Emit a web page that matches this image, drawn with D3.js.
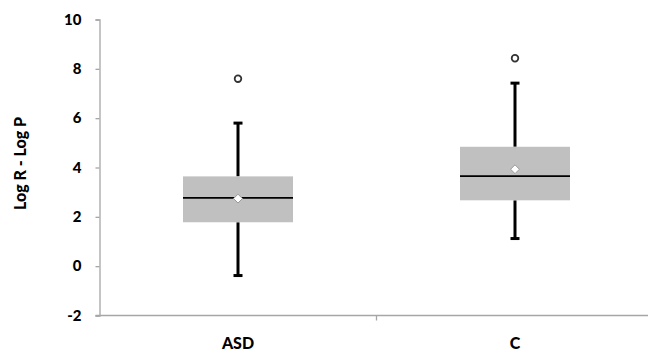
<!DOCTYPE html>
<html>
<head>
<meta charset="utf-8">
<script src="https://cdn.jsdelivr.net/npm/d3@7"></script>
<style>
    body { margin: 0; background: #fff; }
    text { font-family: Lato, "Liberation Sans", sans-serif; font-weight: 900; fill: #000; }
</style>
</head>
<body>
<svg id="chart"></svg>
<script>
// data

let groups = ['ASD', 'C'];
let whiskerLow = [-0.38, 1.12];
let q1 = [1.78, 2.67];
let median = [2.77, 3.65];
let q3 = [3.64, 4.84];
let whiskerHigh = [5.8, 7.42];
let means = [2.74, 3.93];
let outliers = [7.6, 8.43];
let yTicks = [-2, 0, 2, 4, 6, 8, 10];

// sizes

let width = 648;
let height = 356;
let axisX = 99.5;
let yTop = 19.5;
let yBottom = 315.5;

let svg = d3.select('#chart')
    .attr('width', width)
    .attr('height', height);

// scales

let yScale = d3.scaleLinear()
    .domain([-2, 10])
    .range([yBottom, yTop]);

let xScale = d3.scaleBand()
    .domain(groups)
    .range([axisX, axisX + 2 * 277]);

let boxWidth = 110;
let capWidth = 9;

// y axis
svg.append('g')
    .attr('transform', `translate(${axisX}, 0)`)
    .call(d3.axisLeft(yScale)
        .tickValues(yTicks)
        .tickSize(4)
        .tickPadding(14)
        .tickFormat(d => String(d))) // plain hyphen for -2
    .call(g => g.select('.domain').attr('stroke', '#a6a6a6').attr('stroke-width', 1.3))
    .call(g => g.selectAll('.tick line').attr('stroke', '#a6a6a6').attr('stroke-width', 1.3))
    .call(g => g.selectAll('.tick text')
        .style('font-size', '15px')
        .attr('fill', '#000'));

// x axis
svg.append('line')
    .attr('x1', axisX - 4)
    .attr('x2', width)
    .attr('y1', yScale(-2))
    .attr('y2', yScale(-2))
    .attr('stroke', '#a6a6a6')
    .attr('stroke-width', 1.3);

// tick between the two groups
svg.append('line')
    .attr('x1', xScale('C'))
    .attr('x2', xScale('C'))
    .attr('y1', yScale(-2))
    .attr('y2', yScale(-2) + 5)
    .attr('stroke', '#a6a6a6')
    .attr('stroke-width', 1.3);

svg.selectAll('.x-label')
    .data(groups)
    .enter()
    .append('text')
    .attr('class', 'x-label')
    .attr('x', d => xScale(d) + xScale.bandwidth() / 2)
    .attr('y', 349)
    .attr('text-anchor', 'middle')
    .style('font-size', '16px')
    .text(d => d);

svg.append('text')
    .attr('transform', `translate(26, ${(yTop + yBottom) / 2 - 4}) rotate(-90)`)
    .attr('text-anchor', 'middle')
    .style('font-size', '16px')
    .text('Log R - Log P');

// boxes

let boxes = svg.selectAll('.box')
    .data(groups)
    .enter()
    .append('g')
    .attr('class', 'box')
    .attr('transform', d => `translate(${xScale(d) + xScale.bandwidth() / 2}, 0)`);

// whiskers
boxes.append('line')
    .attr('x1', 0).attr('x2', 0)
    .attr('y1', (d, i) => yScale(whiskerLow[i]))
    .attr('y2', (d, i) => yScale(q1[i]))
    .attr('stroke', '#000').attr('stroke-width', 3);

boxes.append('line')
    .attr('x1', 0).attr('x2', 0)
    .attr('y1', (d, i) => yScale(q3[i]))
    .attr('y2', (d, i) => yScale(whiskerHigh[i]))
    .attr('stroke', '#000').attr('stroke-width', 3);

boxes.append('line')
    .attr('x1', -capWidth / 2).attr('x2', capWidth / 2)
    .attr('y1', (d, i) => yScale(whiskerLow[i]))
    .attr('y2', (d, i) => yScale(whiskerLow[i]))
    .attr('stroke', '#000').attr('stroke-width', 3);

boxes.append('line')
    .attr('x1', -capWidth / 2).attr('x2', capWidth / 2)
    .attr('y1', (d, i) => yScale(whiskerHigh[i]))
    .attr('y2', (d, i) => yScale(whiskerHigh[i]))
    .attr('stroke', '#000').attr('stroke-width', 3);

boxes.append('rect')
    .attr('x', -boxWidth / 2)
    .attr('width', boxWidth)
    .attr('y', (d, i) => yScale(q3[i]))
    .attr('height', (d, i) => yScale(q1[i]) - yScale(q3[i]))
    .style('fill', '#c0c0c0');

boxes.append('line')
    .attr('x1', -boxWidth / 2).attr('x2', boxWidth / 2)
    .attr('y1', (d, i) => yScale(median[i]))
    .attr('y2', (d, i) => yScale(median[i]))
    .attr('stroke', '#000').attr('stroke-width', 1.8);

// mean marker
boxes.append('path')
    .attr('d', d3.symbol(d3.symbolDiamond2, 50))
    .attr('transform', (d, i) => `translate(0, ${yScale(means[i])})`)
    .style('fill', '#fff')
    .attr('stroke', '#999')
    .attr('stroke-width', 1);

// outliers
boxes.append('circle')
    .attr('cx', 0)
    .attr('cy', (d, i) => yScale(outliers[i]))
    .attr('r', 3.3)
    .style('fill', '#fff')
    .attr('stroke', '#333')
    .attr('stroke-width', 1.8);
</script>
</body>
</html>
